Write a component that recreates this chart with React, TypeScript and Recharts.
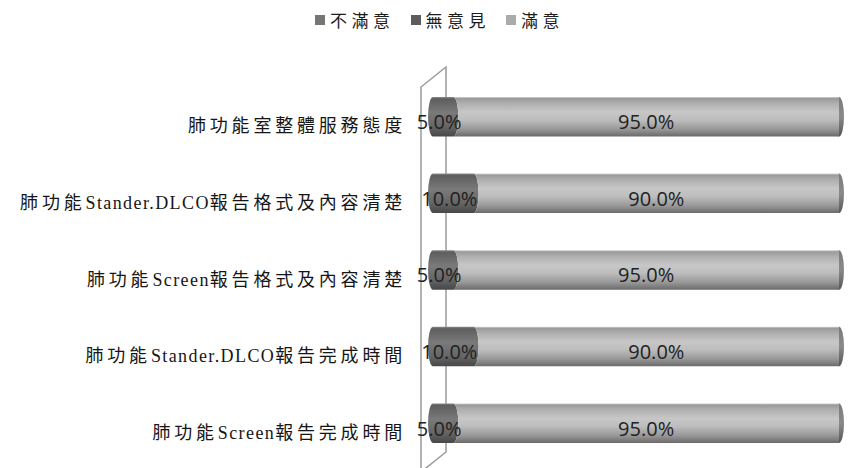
import React from 'react';
import { BarChart, Bar, XAxis, YAxis, LabelList } from 'recharts';

const categories = [
  '肺功能室整體服務態度',
  '肺功能Stander.DLCO報告格式及內容清楚',
  '肺功能Screen報告格式及內容清楚',
  '肺功能Stander.DLCO報告完成時間',
  '肺功能Screen報告完成時間',
];
const dissatisfied = [0, 0, 0, 0, 0];
const neutral = [5, 10, 5, 10, 5];
const satisfied = [95, 90, 95, 90, 95];
const seriesNames = ['不滿意', '無意見', '滿意'];
const seriesColors = ['#767676', '#5c5c5c', '#ababab'];

const data = categories.map((name, i) => ({
  name,
  dissatisfied: dissatisfied[i],
  neutral: neutral[i],
  satisfied: satisfied[i],
}));

const W = 848;
const H = 468;
const PLOT_LEFT = 433;
const PLOT_RIGHT_MARGIN = 9;
const TOP = 78;
const BOTTOM = 7;
const CAP = 5;

const CategoryTick = (props: any) => {
  const { x, y, payload } = props;
  const text: string = payload.value;
  const runs = text.match(/[\x00-\x7f]+|[^\x00-\x7f]+/g) || [];
  return (
    <text
      x={x - 19}
      y={y + 10}
      textAnchor="end"
      dominantBaseline="central"
      fill="#161616"
      fontSize={18}
      fontFamily="'Liberation Serif', 'Noto Sans CJK TC', serif"
    >
      {runs.map((r, i) => {
        const ascii = /^[\x00-\x7f]+$/.test(r);
        return (
          <tspan key={i} letterSpacing={ascii ? 1.4 : 3.8}>
            {r}
          </tspan>
        );
      })}
    </text>
  );
};

const NeutralShape = (props: any) => {
  const { x, y, width, height } = props;
  if (!width || width <= 0) return null;
  const ry = height / 2;
  const d = `M ${x} ${y} L ${x + width} ${y} A ${CAP} ${ry} 0 0 1 ${x + width} ${y + height} L ${x} ${y + height} A ${CAP} ${ry} 0 0 1 ${x} ${y} Z`;
  return <path d={d} fill="url(#gradDark)" />;
};

const SatisfiedShape = (props: any) => {
  const { x, y, width, height } = props;
  if (!width || width <= 0) return null;
  const ry = height / 2;
  const d = `M ${x} ${y} L ${x + width} ${y} L ${x + width} ${y + height} L ${x} ${y + height} A ${CAP} ${ry} 0 0 0 ${x} ${y} Z`;
  return (
    <g>
      <ellipse cx={x + width} cy={y + ry} rx={CAP} ry={ry} fill="url(#gradEnd)" />
      <path d={d} fill="url(#gradLight)" />
    </g>
  );
};

const DissatisfiedShape = (props: any) => {
  const { x, y, width, height } = props;
  if (!width || width <= 0) return null;
  return <rect x={x} y={y} width={width} height={height} fill={seriesColors[0]} />;
};

const makeLabel = (dx: number) => (props: any) => {
  const { x, y, width, height, value } = props;
  if (!value) return null;
  return (
    <text
      x={x + width / 2 + dx}
      y={y + height / 2 + 5}
      textAnchor="middle"
      dominantBaseline="central"
      fontSize={20}
      fontFamily="'Open Sans', sans-serif"
      fill="#222"
    >
      {Number(value).toFixed(1) + '%'}
    </text>
  );
};

const Legend = () => (
  <div
    style={{
      position: 'absolute',
      left: 0,
      top: 10,
      width: W,
      display: 'flex',
      justifyContent: 'center',
      paddingLeft: 31,
      boxSizing: 'border-box',
      fontFamily: "'Noto Sans CJK TC', sans-serif",
      fontSize: 17,
      lineHeight: '20px',
      color: '#1c1c1c',
    }}
  >
    {seriesNames.map((n, i) => (
      <div key={n} style={{ display: 'flex', alignItems: 'center', marginRight: i < 2 ? 16 : 0 }}>
        <span
          style={{
            display: 'inline-block',
            width: 10,
            height: 10,
            background: seriesColors[i],
            marginRight: 5,
          }}
        />
        <span style={{ letterSpacing: 4.5 }}>{n}</span>
      </div>
    ))}
  </div>
);

const Frame = () => {
  const back = PLOT_LEFT + 13;
  const front = PLOT_LEFT - 12;
  return (
    <svg width={W} height={H} style={{ position: 'absolute', left: 0, top: 0 }}>
      <polyline
        points={`${front},${H} ${front},${TOP + 9} ${back},${TOP - 11} ${back},${H - 16} ${front},${H + 4}`}
        fill="none"
        stroke="#9a9a9a"
        strokeWidth={1.5}
      />
    </svg>
  );
};

export default function App() {
  return (
    <div style={{ position: 'absolute', left: 0, top: 0, width: W, height: H, background: '#fff' }}>
      <Frame />
      <div style={{ position: 'absolute', left: 0, top: 0 }}>
        <BarChart
          width={W}
          height={H}
          data={data}
          layout="vertical"
          margin={{ top: TOP, right: PLOT_RIGHT_MARGIN, bottom: BOTTOM, left: 0 }}
          barSize={39.5}
        >
          <defs>
            <linearGradient id="gradLight" x1="0" y1="0" x2="0" y2="1">
              <stop offset="0%" stopColor="#d2d2d2" />
              <stop offset="4%" stopColor="#9a9a9a" />
              <stop offset="15%" stopColor="#aeaeae" />
              <stop offset="38%" stopColor="#c7c7c7" />
              <stop offset="58%" stopColor="#bdbdbd" />
              <stop offset="82%" stopColor="#979797" />
              <stop offset="100%" stopColor="#6a6a6a" />
            </linearGradient>
            <linearGradient id="gradDark" x1="0" y1="0" x2="0" y2="1">
              <stop offset="0%" stopColor="#8a8a8a" />
              <stop offset="5%" stopColor="#5e5e5e" />
              <stop offset="40%" stopColor="#7a7a7a" />
              <stop offset="75%" stopColor="#656565" />
              <stop offset="100%" stopColor="#474747" />
            </linearGradient>
            <linearGradient id="gradEnd" x1="0" y1="0" x2="0" y2="1">
              <stop offset="0%" stopColor="#7a7a7a" />
              <stop offset="50%" stopColor="#8a8a8a" />
              <stop offset="100%" stopColor="#555" />
            </linearGradient>
          </defs>
          <XAxis type="number" domain={[0, 100]} hide />
          <YAxis
            type="category"
            dataKey="name"
            width={PLOT_LEFT}
            axisLine={false}
            tickLine={false}
            tick={<CategoryTick />}
            interval={0}
          />
          <Bar dataKey="dissatisfied" name={seriesNames[0]} stackId="a" isAnimationActive={false} shape={<DissatisfiedShape />} />
          <Bar dataKey="neutral" name={seriesNames[1]} stackId="a" isAnimationActive={false} shape={<NeutralShape />}>
            <LabelList dataKey="neutral" content={makeLabel(-4)} />
          </Bar>
          <Bar dataKey="satisfied" name={seriesNames[2]} stackId="a" isAnimationActive={false} shape={<SatisfiedShape />}>
            <LabelList dataKey="satisfied" content={makeLabel(0)} />
          </Bar>
        </BarChart>
      </div>
      <Legend />
    </div>
  );
}
